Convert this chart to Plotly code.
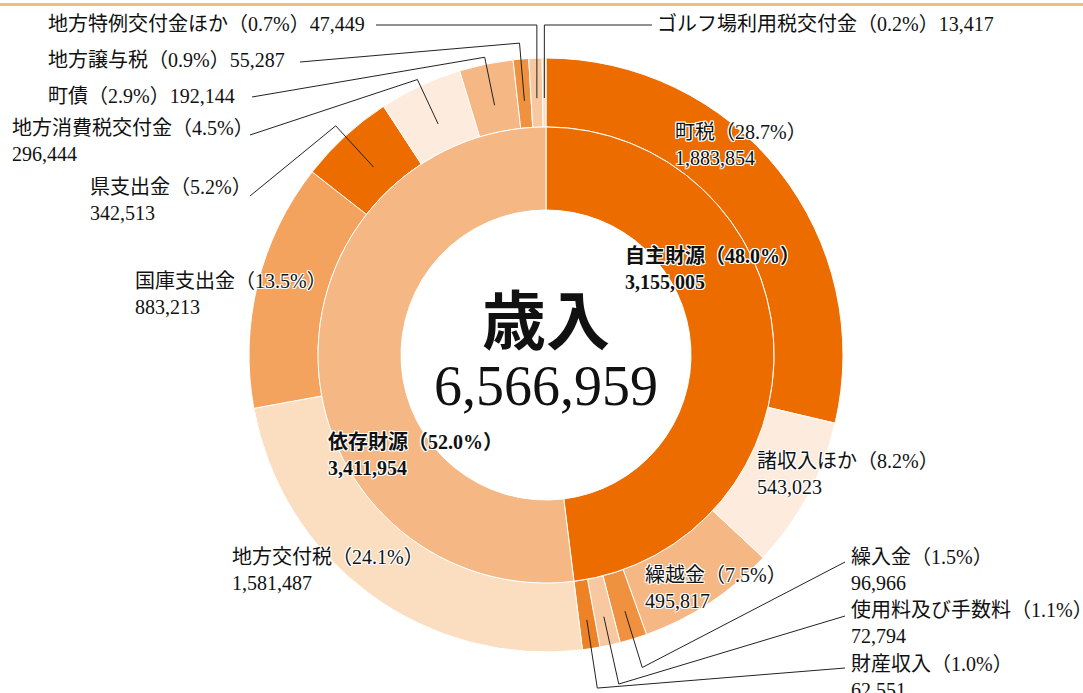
import math
import plotly.graph_objects as go

# ---------------- data ----------------
total_label = "歳入"
total_value = 6566959

group_names = ["自主財源", "依存財源"]
group_values = [3155005, 3411954]
group_pcts = ["48.0", "52.0"]

item_names = ["町税", "諸収入ほか", "繰越金", "繰入金", "使用料及び手数料", "財産収入",
              "地方交付税", "国庫支出金", "県支出金", "地方消費税交付金", "町債",
              "地方譲与税", "地方特例交付金ほか", "ゴルフ場利用税交付金"]
item_values = [1883854, 543023, 495817, 96966, 72794, 62551,
               1581487, 883213, 342513, 296444, 192144, 55287, 47449, 13417]
item_pcts = ["28.7", "8.2", "7.5", "1.5", "1.1", "1.0",
             "24.1", "13.5", "5.2", "4.5", "2.9", "0.9", "0.7", "0.2"]

# ---------------- styles ----------------
group_colors = ["#EC6C00", "#F5B784"]
item_colors = ["#EC6C00", "#FDECDD", "#F5B784", "#F0913F", "#F8C9A0", "#EE8227",
               "#FBDEC0", "#F3A35E", "#EC6C00", "#FDECDD", "#F5B784", "#F0913F",
               "#F8C9A0", "#FBDEC0"]

W, H = 1083, 693
CX, CY = 546, 355
R_OUT, R_MID, R_IN = 297, 228, 145

FONT = "Liberation Serif, 'Noto Sans CJK JP', serif"
LABEL_SIZE = 20
HALO = ("1px 1px 0 #fff, -1px -1px 0 #fff, 1px -1px 0 #fff, -1px 1px 0 #fff, "
        "0 1px 0 #fff, 0 -1px 0 #fff, 1px 0 0 #fff, -1px 0 0 #fff")


def px(x):
    return x / W


def py(y):
    return 1 - y / H


# label layout per item: (left x, center y, two_lines, leader)
label_layout = {
    "町税": (673, 145, True, None),
    "諸収入ほか": (755, 474, True, None),
    "繰越金": (643, 588, True, None),
    "繰入金": (849, 570, True, dict(start=(845, 562), elbow_r=327, end_r=268)),
    "使用料及び手数料": (849, 623, True, dict(start=(845, 616), elbow_r=337, end_r=268)),
    "財産収入": (849, 677, True, dict(start=(845, 668), elbow_r=337, end_r=268)),
    "地方交付税": (230, 570, True, None),
    "国庫支出金": (133, 294, True, None),
    "県支出金": (88, 200, True, dict(start=(250, 196), elbow_r=311, end_r=255)),
    "地方消費税交付金": (10, 141, True, dict(start=(250, 135), elbow_r=304, end_r=255)),
    "町債": (46, 96, False, dict(start=(252, 97), elbow_r=304, end_r=255)),
    "地方譲与税": (46, 60, False, dict(start=(300, 62), elbow_r=313, end_r=255)),
    "地方特例交付金ほか": (46, 24, False, dict(start=(376, 25), elbow_y=25, end_r=257)),
    "ゴルフ場利用税交付金": (655, 24, False, dict(start=(652, 25), elbow_y=25, end_r=257)),
}
group_layout = {
    "自主財源": (623, 269),
    "依存財源": (326, 455),
}

fig = go.Figure()

# outer ring
fig.add_trace(go.Pie(
    values=item_values, labels=item_names, sort=False, direction="clockwise",
    rotation=0, hole=R_MID / R_OUT, textinfo="none", showlegend=False,
    marker=dict(colors=item_colors, line=dict(color="white", width=1)),
    domain=dict(x=[px(CX - R_OUT), px(CX + R_OUT)],
                y=[py(CY + R_OUT), py(CY - R_OUT)]),
))
# inner ring
fig.add_trace(go.Pie(
    values=group_values, labels=group_names, sort=False, direction="clockwise",
    rotation=0, hole=R_IN / R_MID, textinfo="none", showlegend=False,
    marker=dict(colors=group_colors, line=dict(color="white", width=1)),
    domain=dict(x=[px(CX - R_MID), px(CX + R_MID)],
                y=[py(CY + R_MID), py(CY - R_MID)]),
))

annotations = []
shapes = []

# item labels and leader lines
total_items = sum(item_values)
cum = 0
for name, val, pct in zip(item_names, item_values, item_pcts):
    mid = (cum + val / 2) / total_items
    cum += val
    theta = 2 * math.pi * mid
    lx, ly, two, leader = label_layout[name]
    if two:
        txt = f"{name}（{pct}%）<br>{val:,}"
    else:
        txt = f"{name}（{pct}%）{val:,}"
    annotations.append(dict(
        text=txt, x=px(lx), y=py(ly), xref="paper", yref="paper",
        xanchor="left", yanchor="middle", align="left", showarrow=False,
        font=dict(family=FONT, size=LABEL_SIZE, color="#111", shadow=HALO),
    ))
    if leader:
        ex = CX + leader["end_r"] * math.sin(theta)
        ey = CY - leader["end_r"] * math.cos(theta)
        if "elbow_r" in leader:
            bx = CX + leader["elbow_r"] * math.sin(theta)
            by = CY - leader["elbow_r"] * math.cos(theta)
        else:
            bx, by = ex, leader["elbow_y"]
        sx, sy = leader["start"]
        path = (f"M {px(sx)},{py(sy)} L {px(bx)},{py(by)} L {px(ex)},{py(ey)}")
        shapes.append(dict(type="path", path=path, xref="paper", yref="paper",
                           line=dict(color="#222", width=1)))

# group labels
for name, val, pct in zip(group_names, group_values, group_pcts):
    lx, ly = group_layout[name]
    annotations.append(dict(
        text=f"<b>{name}（{pct}%）<br>{val:,}</b>", x=px(lx), y=py(ly),
        xref="paper", yref="paper", xanchor="left", yanchor="middle",
        align="left", showarrow=False,
        font=dict(family=FONT, size=LABEL_SIZE, color="#111", shadow=HALO),
    ))

# center text
annotations.append(dict(
    text=f"<b>{total_label}</b>", x=px(CX), y=py(316), xref="paper", yref="paper",
    xanchor="center", yanchor="middle", showarrow=False,
    font=dict(family="'Noto Sans CJK JP', sans-serif", size=64, color="#111"),
))
annotations.append(dict(
    text=f"{total_value:,}", x=px(CX), y=py(386), xref="paper", yref="paper",
    xanchor="center", yanchor="middle", showarrow=False,
    font=dict(family="Liberation Serif, serif", size=56, color="#111"),
))

# top accent line
shapes.append(dict(type="line", xref="paper", yref="paper", x0=0, x1=1,
                   y0=py(4.5), y1=py(4.5), line=dict(color="#F8B888", width=3)))

fig.update_layout(
    width=W, height=H, autosize=False,
    margin=dict(l=0, r=0, t=0, b=0),
    paper_bgcolor="white", plot_bgcolor="white",
    annotations=annotations, shapes=shapes,
)

fig.write_html(
    "out.html",
    config={"displayModeBar": False},
    post_script="document.body.style.margin='0';document.body.style.overflow='hidden';",
)
